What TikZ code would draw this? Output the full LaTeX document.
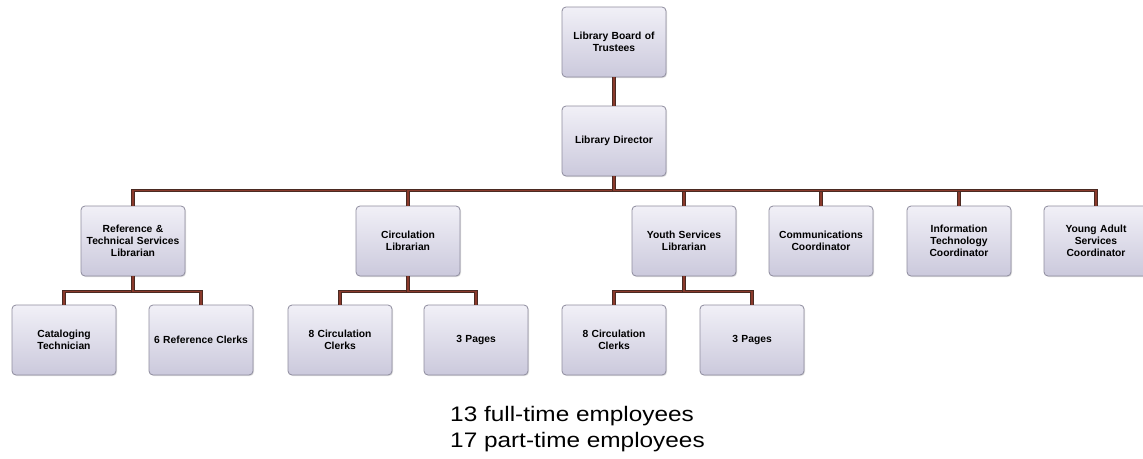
\documentclass[tikz,border=0pt]{standalone}
\usepackage{fontspec}
\setmainfont{Liberation Sans}
\usetikzlibrary{shadows}
\definecolor{conn}{HTML}{8A3A2C}
\definecolor{connedge}{HTML}{4A2A22}
\definecolor{boxtop}{HTML}{F1F0F7}
\definecolor{boxbot}{HTML}{CBC9DC}
\definecolor{boxline}{HTML}{8E8C9E}
\tikzset{
  orgbox/.style={draw=boxline, line width=0.8pt, rounded corners=4pt,
    top color=boxtop, bottom color=boxbot,
    minimum width=104pt, minimum height=70pt, text width=100pt, align=center,
    font=\fontsize{10.3}{11.8}\selectfont\bfseries, inner sep=2pt,
    drop shadow={shadow xshift=1pt, shadow yshift=-1pt, opacity=0.25}},
  link/.style={draw=connedge, line width=0.9pt, double=conn, double distance=1.3pt}
}
\begin{document}
\begin{tikzpicture}[x=1pt,y=-1pt]
\useasboundingbox (0,0) rectangle (1143,458);
\fill[white] (0,0) rectangle (1143,458);
\node[orgbox] (board) at (614,42) {Library Board of\\Trustees};
\node[orgbox] (dir) at (614,141) {Library Director};
\node[orgbox] (ref) at (133,241) {Reference \&\\Technical Services\\Librarian};
\node[orgbox] (circ) at (408,241) {Circulation\\Librarian};
\node[orgbox] (youth) at (684,241) {Youth Services\\Librarian};
\node[orgbox] (comm) at (821,241) {Communications\\Coordinator};
\node[orgbox] (it) at (959,241) {Information\\Technology\\Coordinator};
\node[orgbox] (ya) at (1096,241) {Young Adult\\Services\\Coordinator};
\node[orgbox] (cat) at (64,340) {Cataloging\\Technician};
\node[orgbox] (refc) at (201,340) {6 Reference Clerks};
\node[orgbox] (cc1) at (340,340) {8 Circulation\\Clerks};
\node[orgbox] (pg1) at (476,340) {3 Pages};
\node[orgbox] (cc2) at (614,340) {8 Circulation\\Clerks};
\node[orgbox] (pg2) at (752,340) {3 Pages};
\foreach \c in {ref,circ,youth,comm,it,ya}
  \draw[link] (dir.south) -- ++(0,14) -| (\c.north);
\draw[link] (board.south) -- (dir.north);
\foreach \p/\a/\b in {ref/cat/refc, circ/cc1/pg1, youth/cc2/pg2}{
  \draw[link] (\p.south) -- ++(0,15) -| (\a.north);
  \draw[link] (\p.south) -- ++(0,15) -| (\b.north);
}
\node[anchor=base west, inner sep=0pt, font=\fontsize{21}{25}\selectfont] (ft) at (450,421) {\scalebox{1.16}[1]{13 full-time employees}};
\node[anchor=base west, inner sep=0pt, font=\fontsize{21}{25}\selectfont] (pt) at (450,447) {\scalebox{1.16}[1]{17 part-time employees}};
\end{tikzpicture}
\end{document}
